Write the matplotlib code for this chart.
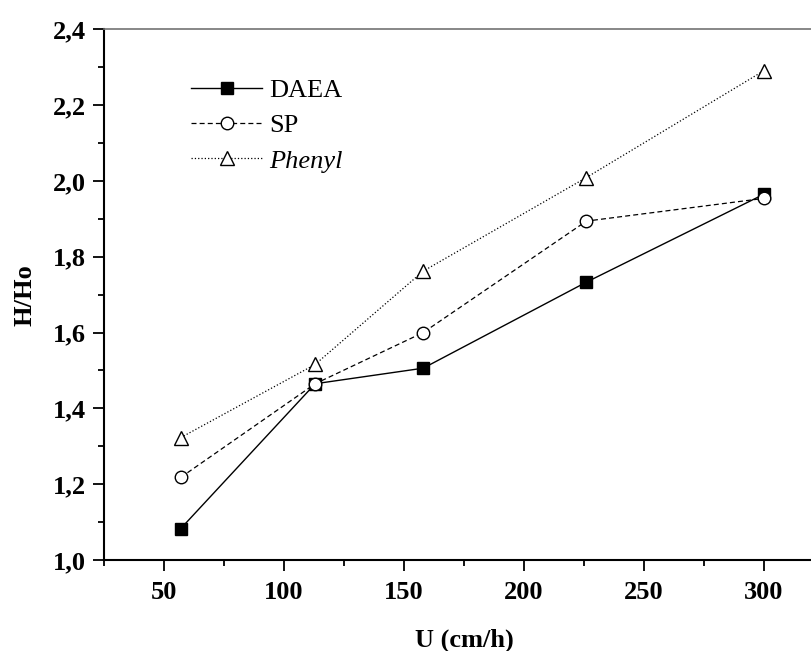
import matplotlib.pyplot as plt
from matplotlib.ticker import FuncFormatter, MultipleLocator

# Flow velocity (cm/h) and bed expansion H/Ho for each adsorbent
u = [57, 113, 158, 226, 300]
daea = [1.083, 1.465, 1.506, 1.733, 1.965]
sp = [1.218, 1.465, 1.600, 1.894, 1.954]
phenyl = [1.323, 1.516, 1.762, 2.009, 2.291]

plt.rcParams['font.family'] = ['Liberation Serif', 'DejaVu Serif']

fig = plt.figure(figsize=(8.11, 6.51), dpi=100)
ax = fig.add_axes([104 / 811, 91 / 651, 720 / 811, 530.7 / 651])

ax.plot(u, daea, '-', color='black', lw=1.0, marker='s', ms=8,
        mfc='black', mec='black', label='DAEA', zorder=3)
ax.plot(u, sp, '--', color='black', lw=0.9, dashes=(4, 2.5), marker='o', ms=9,
        mfc='white', mec='black', mew=1.0, label='SP', zorder=4)
ax.plot(u, phenyl, ':', color='black', lw=0.9, marker='^', ms=10,
        mfc='white', mec='black', mew=1.0, label='Phenyl', zorder=4)

ax.set_xlim(25, 325)
ax.set_ylim(1.0, 2.4)
ax.xaxis.set_major_locator(MultipleLocator(50))
ax.xaxis.set_minor_locator(MultipleLocator(25))
ax.yaxis.set_major_locator(MultipleLocator(0.2))
ax.yaxis.set_minor_locator(MultipleLocator(0.1))
ax.yaxis.set_major_formatter(FuncFormatter(lambda v, p: f'{v:.1f}'.replace('.', ',')))
ax.set_xticks([50, 100, 150, 200, 250, 300])

ax.tick_params(which='major', direction='out', length=8, width=1.3, labelsize=19, pad=5)
ax.tick_params(which='minor', direction='out', length=4.5, width=1.3)
ax.tick_params(axis='x', which='major', pad=7)
for lab in ax.get_xticklabels() + ax.get_yticklabels():
    lab.set_fontweight('bold')

for side in ['left', 'bottom']:
    ax.spines[side].set_linewidth(1.5)
ax.spines['top'].set_color('0.45')
ax.spines['top'].set_linewidth(1.2)
ax.spines['right'].set_visible(False)

ax.set_xlabel('U (cm/h)', fontsize=19, fontweight='bold', labelpad=18)
ax.set_ylabel('H/Ho', fontsize=19, fontweight='bold', labelpad=12)

leg = ax.legend(loc='upper left', bbox_to_anchor=(0.088, 0.952), frameon=False,
                fontsize=19, handlelength=2.7, handletextpad=0.25, labelspacing=0.45)
leg.get_texts()[2].set_fontstyle('italic')

fig.savefig('out.png', dpi=100)
